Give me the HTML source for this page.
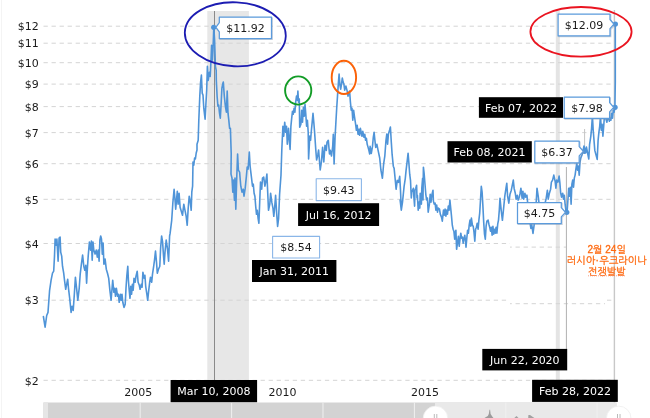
<!DOCTYPE html>
<html lang="ko"><head><meta charset="utf-8"><title>Chart</title>
<style>html,body{margin:0;padding:0;background:#fff}body{width:650px;height:418px;overflow:hidden;position:relative}</style>
</head><body>
<svg width="650" height="418" viewBox="0 0 650 418" style="position:absolute;left:0;top:0">
<rect width="650" height="418" fill="#fff"/>
<rect x="207.3" y="11" width="41.6" height="369.5" fill="#e7e7e7"/>
<rect x="555.8" y="11" width="4" height="369" fill="#e4e4e4"/>
<line x1="43.5" x2="614" y1="26.2" y2="26.2" stroke="#d4d4d4" stroke-width="1" stroke-dasharray="4.3 3.74" stroke-dashoffset="0"/>
<line x1="43.5" x2="614" y1="43.2" y2="43.2" stroke="#d4d4d4" stroke-width="1" stroke-dasharray="4.3 3.74" stroke-dashoffset="0"/>
<line x1="43.5" x2="614" y1="62.7" y2="62.7" stroke="#d4d4d4" stroke-width="1" stroke-dasharray="4.3 3.74" stroke-dashoffset="0"/>
<line x1="43.5" x2="614" y1="84.1" y2="84.1" stroke="#d4d4d4" stroke-width="1" stroke-dasharray="4.3 3.74" stroke-dashoffset="0"/>
<line x1="43.5" x2="614" y1="106.6" y2="106.6" stroke="#d4d4d4" stroke-width="1" stroke-dasharray="4.3 3.74" stroke-dashoffset="0"/>
<line x1="43.5" x2="614" y1="132.6" y2="132.6" stroke="#d4d4d4" stroke-width="1" stroke-dasharray="4.3 3.74" stroke-dashoffset="0"/>
<line x1="43.5" x2="614" y1="163.7" y2="163.7" stroke="#d4d4d4" stroke-width="1" stroke-dasharray="4.3 3.74" stroke-dashoffset="0"/>
<line x1="43.5" x2="614" y1="199.3" y2="199.3" stroke="#d4d4d4" stroke-width="1" stroke-dasharray="4.3 3.74" stroke-dashoffset="0"/>
<line x1="43.5" x2="510" y1="243.5" y2="243.5" stroke="#d4d4d4" stroke-width="1" stroke-dasharray="4.3 3.74" stroke-dashoffset="0"/>
<line x1="510" x2="566" y1="247.1" y2="247.1" stroke="#d4d4d4" stroke-width="1" stroke-dasharray="4.3 3.74" stroke-dashoffset="2.5"/>
<line x1="43.5" x2="508" y1="300.2" y2="300.2" stroke="#d4d4d4" stroke-width="1" stroke-dasharray="4.3 3.74" stroke-dashoffset="0"/>
<line x1="510" x2="605" y1="303.7" y2="303.7" stroke="#d4d4d4" stroke-width="1" stroke-dasharray="4.3 3.74" stroke-dashoffset="2.5"/>
<line x1="607" x2="614" y1="300.2" y2="300.2" stroke="#d4d4d4" stroke-width="1" stroke-dasharray="4.3 3.74" stroke-dashoffset="0"/>
<line x1="43.5" x2="614" y1="380.3" y2="380.3" stroke="#d4d4d4" stroke-width="1" stroke-dasharray="4.3 3.74" stroke-dashoffset="0"/>
<line x1="214.5" x2="214.5" y1="11" y2="380" stroke="#8a8a8a" stroke-width="1"/>
<line x1="566.4" x2="566.4" y1="167" y2="350" stroke="#b0b0b0" stroke-width="1"/>
<line x1="584.6" x2="584.6" y1="129" y2="152" stroke="#c4c4c4" stroke-width="1"/>
<line x1="614.4" x2="614.4" y1="10" y2="403" stroke="#c8c8c8" stroke-width="1.4"/>
<line x1="1.5" x2="1.5" y1="0" y2="418" stroke="#f4f4f4" stroke-width="1"/>
<text x="38.7" y="30.4" text-anchor="end" font-family='"DejaVu Sans","Liberation Sans",sans-serif' font-size="11" fill="#1a1a1a">$12</text>
<text x="38.7" y="47.4" text-anchor="end" font-family='"DejaVu Sans","Liberation Sans",sans-serif' font-size="11" fill="#1a1a1a">$11</text>
<text x="38.7" y="66.9" text-anchor="end" font-family='"DejaVu Sans","Liberation Sans",sans-serif' font-size="11" fill="#1a1a1a">$10</text>
<text x="38.7" y="88.3" text-anchor="end" font-family='"DejaVu Sans","Liberation Sans",sans-serif' font-size="11" fill="#1a1a1a">$9</text>
<text x="38.7" y="110.8" text-anchor="end" font-family='"DejaVu Sans","Liberation Sans",sans-serif' font-size="11" fill="#1a1a1a">$8</text>
<text x="38.7" y="136.8" text-anchor="end" font-family='"DejaVu Sans","Liberation Sans",sans-serif' font-size="11" fill="#1a1a1a">$7</text>
<text x="38.7" y="167.9" text-anchor="end" font-family='"DejaVu Sans","Liberation Sans",sans-serif' font-size="11" fill="#1a1a1a">$6</text>
<text x="38.7" y="203.5" text-anchor="end" font-family='"DejaVu Sans","Liberation Sans",sans-serif' font-size="11" fill="#1a1a1a">$5</text>
<text x="38.7" y="247.7" text-anchor="end" font-family='"DejaVu Sans","Liberation Sans",sans-serif' font-size="11" fill="#1a1a1a">$4</text>
<text x="38.7" y="304.4" text-anchor="end" font-family='"DejaVu Sans","Liberation Sans",sans-serif' font-size="11" fill="#1a1a1a">$3</text>
<text x="38.7" y="384.5" text-anchor="end" font-family='"DejaVu Sans","Liberation Sans",sans-serif' font-size="11" fill="#1a1a1a">$2</text>
<text x="138.2" y="396.2" text-anchor="middle" font-family='"DejaVu Sans","Liberation Sans",sans-serif' font-size="11" fill="#1a1a1a">2005</text>
<text x="282.5" y="396.2" text-anchor="middle" font-family='"DejaVu Sans","Liberation Sans",sans-serif' font-size="11" fill="#1a1a1a">2010</text>
<text x="425" y="396.2" text-anchor="middle" font-family='"DejaVu Sans","Liberation Sans",sans-serif' font-size="11" fill="#1a1a1a">2015</text>
<rect x="43.4" y="402.5" width="573" height="16" fill="#d3d3d3"/>
<rect x="43.4" y="402.5" width="4.6" height="16" fill="#e6e6e6"/>
<rect x="435" y="402.5" width="181.5" height="16" fill="#e9e9e9"/>
<line x1="140.2" x2="140.2" y1="402.5" y2="418" stroke="#f0f0f0" stroke-width="1"/>
<line x1="231.6" x2="231.6" y1="402.5" y2="418" stroke="#f0f0f0" stroke-width="1"/>
<line x1="323" x2="323" y1="402.5" y2="418" stroke="#f0f0f0" stroke-width="1"/>
<line x1="414.4" x2="414.4" y1="402.5" y2="418" stroke="#f0f0f0" stroke-width="1"/>
<line x1="505.8" x2="505.8" y1="402.5" y2="418" stroke="#f0f0f0" stroke-width="1"/>
<line x1="597.2" x2="597.2" y1="402.5" y2="418" stroke="#f0f0f0" stroke-width="1"/>
<path d="M484.5 418 L486 417 L487.8 416 L488.8 414 L489.5 409.8 L490.1 409.8 L490.6 414 L491.6 415.5 L492.6 417 L493.5 418 Z" fill="#9c9c9c"/>
<path d="M514.3 418 L516.5 416 L518.5 418 Z M528.2 418 L528.4 415 L530 415 L534.4 418 Z" fill="#a2a2a2"/>
<circle cx="435.5" cy="418.4" r="12.3" fill="#fff" stroke="#ededed" stroke-width="0.8"/>
<path d="M434.3 414 V418 M436.8 414 V418" stroke="#a8a8a8" stroke-width="0.8"/>
<circle cx="618.7" cy="418.4" r="12.3" fill="#fff" stroke="#ededed" stroke-width="0.8"/>
<path d="M617.5 414 V418 M620.0 414 V418" stroke="#a8a8a8" stroke-width="0.8"/>
<path d="M43.4 316.5 L45.1 327.2 L46.7 315.5 L48 312.4 L49.6 290.3 L51.1 280.2 L52.5 273.2 L53.7 271.2 L54.5 256.1 L55.1 239 L56.1 245.1 L56.9 239 L58.1 261.1 L59.1 238 L60.1 237 L60.7 252.1 L61.7 256.1 L62.5 266.2 L63.7 273.2 L64.5 280.2 L65.7 289.3 L66.7 284.2 L67.7 279.2 L68.5 288.3 L69.7 298.3 L71.1 312.4 L72.1 306.4 L73.2 310.4 L74.2 296.3 L75.4 277.2 L76.6 288.3 L77.8 300.3 L79.2 288.3 L80.2 274.2 L81.4 264.2 L82.6 255.1 L83.8 266.2 L84.8 270.2 L85.8 265.2 L86.6 283.2 L87.4 268.2 L88.2 256.1 L89.4 242.1 L90.6 250.1 L91.4 241.1 L92.2 260.1 L93 242.1 L93.8 250.1 L95.1 254.1 L96.3 250.1 L97.3 257.1 L98.3 250.1 L99.1 261.1 L99.9 240 L100.7 236 L101.5 239 L102.3 254.1 L103.1 243.1 L103.9 264.2 L105.1 259.1 L106.3 269.2 L107.5 273.2 L108.7 278.2 L109.9 290.3 L111.1 300.3 L111.9 290.3 L112.7 280.2 L113.9 292.3 L114.7 288.3 L115.5 296.3 L116.4 288.3 L117.6 296.3 L118.4 294.3 L119.2 302.3 L120.4 294.3 L121.2 300.3 L122 294.3 L122.8 302.3 L124 307.4 L125.2 304.3 L126 288.3 L126.8 276.2 L127.8 266.2 L128.4 280.2 L129.2 290.3 L130 298.3 L130.8 286.3 L131.6 294.3 L132.4 284.2 L133.2 290.3 L134 278.2 L135.2 282.2 L136 276.2 L137.2 271.2 L138.1 282.2 L139.3 285.3 L140.1 289.3 L141.3 284.2 L142.1 287.3 L142.9 272.2 L144.1 278.2 L144.9 275.2 L145.7 286.3 L146.9 294.3 L147.7 300.3 L148.5 292.3 L149.7 282.2 L150.5 277.2 L151.7 282.2 L152.5 274.2 L153.7 266.2 L154.5 260.1 L155.5 251.1 L156.5 262.1 L157.3 273.2 L158.5 269.2 L159.8 266.2 L160.6 248.1 L161.6 236 L162.6 242.1 L163.4 254.1 L164.2 264.2 L165 252.1 L166.2 240 L167.4 248.1 L168.6 261.1 L169.6 236 L170.1 233.4 L171.7 220.3 L172.9 202.2 L174.1 189.2 L174.9 198.2 L175.7 209.3 L176.5 200.2 L177.3 191.2 L178.1 204.2 L179.1 193.2 L180.1 207.3 L181.3 211.3 L182.5 215.3 L183.8 204.2 L185 210.3 L186.2 216.3 L187.2 225.3 L188.2 208.3 L189.2 196.2 L190.2 201.2 L191.2 210.3 L191.8 192.2 L192.6 186.2 L193 162.1 L193.8 165.1 L194.6 158 L195.4 159 L196.2 153 L197 150 L197 144.3 L198.2 140.3 L198.8 120.2 L199.8 96.1 L200.6 82.1 L201.4 75 L202.2 93.1 L203 95.1 L203.8 108.2 L205.1 119.2 L205.9 104.2 L206.7 90.1 L207.4 66.3 L208.2 80.4 L209.4 72.3 L210.2 76.4 L211 60.3 L211.6 45.2 L212.4 60.3 L213 50.2 L213.8 27.1 L214.6 40.2 L215.4 66.3 L216.2 70.3 L216.3 80 L217.1 96.1 L217.9 106.2 L218.7 105.2 L219.5 113.2 L220.3 118.2 L221.1 104.2 L221.9 88.1 L222.7 84.1 L223.3 82.1 L224.3 96.1 L225.5 107.2 L226.4 112.2 L227.2 91.1 L228 113.2 L228.8 120.2 L229.6 128.3 L230.4 128.3 L231.2 153.4 L231 174.1 L232 178.1 L232.8 192.2 L233.6 180.1 L234.4 200.2 L235 178.1 L235.8 209.3 L236.8 176.1 L237.6 154 L238.4 170.1 L239.6 172.1 L240.8 186.2 L242 192.2 L243.2 189.2 L244 196.2 L245.2 188.2 L246.4 176.1 L247.2 167.1 L248.1 169.1 L249.3 152 L250.1 166.1 L251.3 176.1 L252.5 186.2 L253.3 184.2 L254.1 193.2 L254.9 196.2 L255.7 206.3 L256.5 214.3 L257.3 210.3 L258.1 218.3 L258.9 223.3 L259.7 202.2 L260.5 182.1 L261.7 189.2 L262.5 178.1 L263.7 177.1 L264.9 186.2 L265.7 182.1 L266.9 174.1 L267.7 192.2 L268.5 210.3 L269.8 204.2 L270.6 193.2 L271.8 202.2 L273 208.3 L273.8 216.3 L274.6 208.3 L275.6 195.2 L276.6 212.3 L277.6 226.4 L278.6 218.3 L279.6 194.2 L281 175 L281.8 150 L282.9 126.3 L283.7 136.3 L284.7 122.2 L285.7 132.3 L286.5 126.3 L287.3 144.3 L288.5 128.3 L289.3 140.3 L290.1 149.4 L290.9 126.3 L291.7 118.2 L292.5 111.2 L293.3 114.2 L294.1 108.2 L294.9 112.2 L295.7 102.1 L296.5 96.1 L297.3 100.1 L297.9 91.1 L298.5 102.1 L299.3 99.1 L299.7 127.3 L300.9 124.2 L301.7 110.2 L302.5 122.2 L303.4 107.2 L304.2 116.2 L305 104.2 L305.8 114.2 L306.6 126.3 L307.4 120.2 L308.2 132.3 L308.6 159 L309.8 136 L310.6 140.3 L311.4 130.3 L312.2 122.2 L313 113.2 L313.8 122.2 L314.6 132.3 L315.8 150 L316.6 160 L317.8 155 L318.6 150 L320.2 170 L321.4 162 L322.6 147.4 L323.8 162 L325 145.3 L326.3 150.4 L327 142.3 L328.3 140.3 L329.5 154 L330.3 150.4 L331.5 156 L332.7 146.3 L333.3 134.3 L334.1 164 L335.1 136.3 L335.9 122.2 L336.7 108.2 L337.5 96.1 L338.3 84.1 L339.1 74 L339.9 85.1 L340.7 89.1 L341.5 84.1 L342.3 78 L343.1 82.1 L343.9 84.1 L344.7 90.1 L345.9 86.1 L347.2 91.1 L348 96.1 L348.8 93.1 L349.6 91.1 L350.4 102.1 L351.2 110.2 L352 108.2 L352.8 120.2 L353.6 110.2 L354.4 116.2 L355.6 124.2 L356.4 130.3 L357.2 125.3 L358 134.3 L358.8 129.3 L359.6 135.3 L360.4 128.3 L361.2 132.3 L362 136.3 L362.8 131.3 L364 137.3 L364.8 134.3 L365.6 140.3 L366.4 138.3 L367.2 144.3 L368.1 147.4 L368.9 150.4 L369.7 154 L370.1 146.4 L371.3 153.4 L372.5 146.4 L373.3 137.3 L374.1 132.3 L374.9 140.3 L375.7 147.4 L376.9 144.3 L378.1 150.4 L379.7 158 L380.9 170 L382.4 178.3 L383.6 164.2 L384.8 156.2 L386 140.1 L386.8 134.1 L387.6 144.1 L388.4 134.1 L389.6 130 L390.4 127 L391.3 142.1 L392.1 154.2 L393.3 166.2 L394.1 168.2 L395.3 180.3 L396.1 189.3 L397.3 180.3 L398.5 182.3 L399.7 176.3 L400.5 190.3 L401.3 210 L400.1 200 L401.3 210.1 L402.5 202.1 L404.1 186.3 L405.3 178.3 L406.1 170.2 L407.3 160.2 L408.1 153.2 L408.9 163.2 L409.7 174.2 L410.5 180.3 L411.3 198 L411.7 192.3 L413.4 188.3 L413.8 196 L414.6 206.1 L415 190.3 L415.8 188.3 L416.6 185.3 L417 198 L417.4 195.3 L418.2 210.1 L419 202.1 L419.8 208.1 L420.2 193.3 L420.6 196 L421.4 204.1 L421.8 188.3 L422.6 178.3 L423 200 L423.4 167.2 L424.2 174.2 L425 184.3 L425.8 194.3 L426.6 200 L427.4 198 L428.2 212.1 L429.4 204.1 L430.2 194.3 L431 202.1 L431.8 195.3 L433 190.3 L433.4 201.1 L434.2 204.1 L435.1 203.1 L435.9 210.1 L436.7 205.1 L437.5 212.1 L438.3 208.1 L439.5 209.1 L440.3 214.1 L441.5 217.1 L442.3 221.1 L443.5 210.1 L444.3 215.1 L445.1 209.1 L445.9 216.1 L446.7 210.1 L447.5 214.1 L448.3 206.1 L449.1 210.1 L449.9 200 L450.7 208.1 L451.5 216.1 L452.3 225.2 L453.1 229.2 L453.9 231.2 L454.7 239.2 L455.5 232.2 L455.9 230.2 L456.6 249.3 L457.6 242.2 L458.4 236.2 L459.2 246.3 L460 239.2 L460.8 233.2 L461.6 238.2 L462.4 237.2 L463.2 243.2 L464 238.2 L464.8 235.2 L465.6 242.2 L466 247.3 L466.8 238.2 L467.6 230.2 L468.4 233.2 L469.2 225.2 L470 220.1 L470.8 226.2 L471.4 218.1 L472.4 225.2 L473.2 226.2 L474 232.2 L474.8 241.2 L475.6 229.2 L476.4 227.2 L477.2 223.2 L478.1 229.2 L478.9 220.1 L479.7 213.1 L480.5 200 L481.3 186.4 L482.1 192 L482.9 206.1 L483.7 222.1 L484.5 234.2 L485.3 239.2 L486.1 226.2 L486.9 221.1 L488.1 220.1 L488.9 224.2 L489.7 227.2 L490.5 231.2 L491.3 227.2 L492.1 235.2 L492.9 226.2 L493.7 234.2 L494.5 229.2 L495.3 233.2 L496.1 227.2 L496.9 233.2 L497.7 224.2 L498.5 220.1 L499.3 210.1 L500 198.2 L501.2 210.3 L502.4 220.3 L503.6 208.3 L504.8 196.2 L506 188.2 L506.8 183.2 L507.6 196.2 L508.8 203.2 L510 194.2 L511.3 190.2 L512.5 184.2 L513.3 180.1 L514.1 188.2 L515.3 193.2 L516.1 199.2 L517.3 195.2 L518.1 200.2 L519.3 197.2 L520.1 193.2 L520.9 188.2 L522.1 198.2 L522.9 191.2 L523.7 199.2 L524.9 193.2 L525.7 197.2 L526.9 195.2 L527.7 203.2 L528.9 214.3 L530.1 223.3 L530.9 228.4 L531.7 224.3 L533 233.4 L534.2 224.3 L535.2 218.3 L536.2 202.6 L537 188.2 L538.2 196.2 L539.4 206.3 L541 216.3 L542.6 210.3 L544.2 206.3 L545.2 202.6 L546.2 198.2 L547.4 190.2 L548.2 199.2 L549.4 193.2 L550.6 189.2 L551.4 182.1 L552.6 180.1 L553.8 175.1 L555.1 181.1 L555.9 188.2 L556.7 180.1 L557.9 182.1 L559.1 176.1 L559.9 183.2 L560.7 193.2 L561.5 197.2 L562.7 193.2 L563.5 199.2 L564.3 195.2 L565.1 204.2 L565.9 210.3 L567.1 212.3 L567.9 200.2 L568.7 188.2 L569.5 196.2 L570.3 187.2 L571.1 204.2 L571.9 184.2 L572.7 180.1 L573.5 187.2 L574.3 178.1 L575.1 175.1 L575.9 169.1 L576.8 163.1 L577.6 170.1 L578.4 166.1 L579.2 175.1 L580 162.1 L580.8 158 L582 155 L583.2 150 L584 146 L585 152 L586.4 147 L587.6 153 L588.8 159 L589.6 144.3 L590.8 136.3 L591.6 128.3 L592.4 115.8 L593.2 130.3 L594 140.3 L594.8 150.4 L595.6 153.4 L597.2 159.4 L598.1 140.3 L598.9 132.3 L599.7 126.3 L600.5 115.8 L601.3 130.3 L602.1 124.2 L602.9 136.3 L603.7 126.3 L604.5 115.2 L605.7 118.2 L606.9 122.2 L608.1 115.2 L609.3 121.2 L610.1 118.2 L610.9 120.2 L611.7 113.2 L612.5 118.2 L613.3 110.2 L614.1 112.2 L614.9 107.2 L615.3 82.1 L615.3 24.1" fill="none" stroke="#4f94d8" stroke-width="1.6" stroke-linejoin="round" stroke-linecap="round"/>
<circle cx="213.7" cy="27.3" r="2.6" fill="#4f94d8"/>
<circle cx="615.4" cy="24.1" r="2.6" fill="#4f94d8"/>
<circle cx="615.1" cy="107.3" r="2.6" fill="#4f94d8"/>
<circle cx="584.5" cy="151.3" r="2.6" fill="#4f94d8"/>
<circle cx="566.8" cy="212.3" r="2.6" fill="#4f94d8"/>
<ellipse cx="235.3" cy="34.3" rx="50.5" ry="32" fill="none" stroke="#1c1cb2" stroke-width="1.8" transform="rotate(2.5 235.3 34.3)"/>
<ellipse cx="298.2" cy="90.5" rx="13.1" ry="14.1" fill="none" stroke="#129c26" stroke-width="1.9"/>
<ellipse cx="343.9" cy="77.4" rx="12.2" ry="16.6" fill="none" stroke="#fb6208" stroke-width="1.9"/>
<ellipse cx="581" cy="31.8" rx="50.6" ry="24.8" fill="none" stroke="#ea1420" stroke-width="1.8"/>
<path d="M219.3 17.2 H271.5 V38.5 H219.3 V31.9 L215.9 27.3 L219.3 22.7 Z" fill="none" stroke="#8796ad" stroke-opacity="0.45" stroke-width="1.2" transform="translate(0.8 0.8)"/>
<path d="M219.3 17.2 H271.5 V38.5 H219.3 V31.9 L215.9 27.3 L219.3 22.7 Z" fill="#fff" stroke="#5b9bdc" stroke-width="1.25" stroke-linejoin="round"/>
<text x="245.4" y="32.0" text-anchor="middle" font-family='"DejaVu Sans","Liberation Sans",sans-serif' font-size="11" fill="#1a1a1a">$11.92</text>
<path d="M558.1 14.1 H610 V19.5 L613.9 24.1 L610 28.7 V35.9 H558.1 Z" fill="none" stroke="#8796ad" stroke-opacity="0.45" stroke-width="1.2" transform="translate(0.8 0.8)"/>
<path d="M558.1 14.1 H610 V19.5 L613.9 24.1 L610 28.7 V35.9 H558.1 Z" fill="#fff" stroke="#5b9bdc" stroke-width="1.25" stroke-linejoin="round"/>
<text x="584.0" y="29.1" text-anchor="middle" font-family='"DejaVu Sans","Liberation Sans",sans-serif' font-size="11" fill="#1a1a1a">$12.09</text>
<path d="M564.2 97.2 H609.6 V102.7 L613.7 107.3 L609.6 111.9 V118.3 H564.2 Z" fill="none" stroke="#8796ad" stroke-opacity="0.45" stroke-width="1.2" transform="translate(0.8 0.8)"/>
<path d="M564.2 97.2 H609.6 V102.7 L613.7 107.3 L609.6 111.9 V118.3 H564.2 Z" fill="#fff" stroke="#5b9bdc" stroke-width="1.25" stroke-linejoin="round"/>
<text x="586.9" y="111.8" text-anchor="middle" font-family='"DejaVu Sans","Liberation Sans",sans-serif' font-size="11" fill="#1a1a1a">$7.98</text>
<path d="M534.8 141.2 H579.2 V146.7 L583.3 151.3 L579.2 155.9 V162.8 H534.8 Z" fill="none" stroke="#8796ad" stroke-opacity="0.45" stroke-width="1.2" transform="translate(0.8 0.8)"/>
<path d="M534.8 141.2 H579.2 V146.7 L583.3 151.3 L579.2 155.9 V162.8 H534.8 Z" fill="#fff" stroke="#5b9bdc" stroke-width="1.25" stroke-linejoin="round"/>
<text x="557.0" y="156.1" text-anchor="middle" font-family='"DejaVu Sans","Liberation Sans",sans-serif' font-size="11" fill="#1a1a1a">$6.37</text>
<path d="M517.5 202.5 H561.3 V207.7 L565.4 212.3 L561.3 216.9 V223.6 H517.5 Z" fill="none" stroke="#8796ad" stroke-opacity="0.45" stroke-width="1.2" transform="translate(0.8 0.8)"/>
<path d="M517.5 202.5 H561.3 V207.7 L565.4 212.3 L561.3 216.9 V223.6 H517.5 Z" fill="#fff" stroke="#5b9bdc" stroke-width="1.25" stroke-linejoin="round"/>
<text x="539.4" y="217.2" text-anchor="middle" font-family='"DejaVu Sans","Liberation Sans",sans-serif' font-size="11" fill="#1a1a1a">$4.75</text>
<path d="M316.2 178.7 H361.4 V200.6 H316.2 Z" fill="#fff" stroke="#8ab6e8" stroke-width="1.1" stroke-linejoin="round"/>
<text x="338.8" y="193.7" text-anchor="middle" font-family='"DejaVu Sans","Liberation Sans",sans-serif' font-size="11" fill="#1a1a1a">$9.43</text>
<path d="M272.6 236.4 H319.6 V258 H272.6 Z" fill="#fff" stroke="#8ab6e8" stroke-width="1.1" stroke-linejoin="round"/>
<text x="296.1" y="251.3" text-anchor="middle" font-family='"DejaVu Sans","Liberation Sans",sans-serif' font-size="11" fill="#1a1a1a">$8.54</text>
<rect x="478.9" y="97.2" width="84.1" height="20.6" fill="#000"/>
<text x="521.0" y="111.5" text-anchor="middle" font-family='"DejaVu Sans","Liberation Sans",sans-serif' font-size="11" fill="#fff">Feb 07, 2022</text>
<rect x="447.5" y="141.2" width="84.3" height="21.3" fill="#000"/>
<text x="489.6" y="155.8" text-anchor="middle" font-family='"DejaVu Sans","Liberation Sans",sans-serif' font-size="11" fill="#fff">Feb 08, 2021</text>
<rect x="298.1" y="203.2" width="81.0" height="22.8" fill="#000"/>
<text x="338.6" y="218.6" text-anchor="middle" font-family='"DejaVu Sans","Liberation Sans",sans-serif' font-size="11" fill="#fff">Jul 16, 2012</text>
<rect x="252" y="260" width="84.4" height="22.0" fill="#000"/>
<text x="294.2" y="275.0" text-anchor="middle" font-family='"DejaVu Sans","Liberation Sans",sans-serif' font-size="11" fill="#fff">Jan 31, 2011</text>
<rect x="482.3" y="348.9" width="84.9" height="21.5" fill="#000"/>
<text x="524.8" y="363.6" text-anchor="middle" font-family='"DejaVu Sans","Liberation Sans",sans-serif' font-size="11" fill="#fff">Jun 22, 2020</text>
<rect x="170.6" y="380" width="86.5" height="22.2" fill="#000"/>
<text x="213.9" y="395.1" text-anchor="middle" font-family='"DejaVu Sans","Liberation Sans",sans-serif' font-size="11" fill="#fff">Mar 10, 2008</text>
<rect x="532.1" y="379.8" width="85.7" height="22.1" fill="#000"/>
<text x="575.0" y="394.9" text-anchor="middle" font-family='"DejaVu Sans","Liberation Sans",sans-serif' font-size="11" fill="#fff">Feb 28, 2022</text>
<text x="606.7" y="253.4" text-anchor="middle" word-spacing="0" font-family='"Liberation Sans","NanumGothic",sans-serif' font-size="10" fill="#ff6a10" stroke="#ff6a10" stroke-width="0.3">2월 24일</text>
<text x="606.7" y="264.4" text-anchor="middle" word-spacing="-2.2" font-family='"Liberation Sans","NanumGothic",sans-serif' font-size="10" fill="#ff6a10" stroke="#ff6a10" stroke-width="0.3">러시아 · 우크라이나</text>
<text x="606.7" y="274.6" text-anchor="middle" word-spacing="0" font-family='"Liberation Sans","NanumGothic",sans-serif' font-size="10" fill="#ff6a10" stroke="#ff6a10" stroke-width="0.3">전쟁발발</text>
<line x1="588" x2="626" y1="275.8" y2="275.8" stroke="#f58a6a" stroke-width="0.8" stroke-dasharray="1 1"/>
</svg>
</body></html>
